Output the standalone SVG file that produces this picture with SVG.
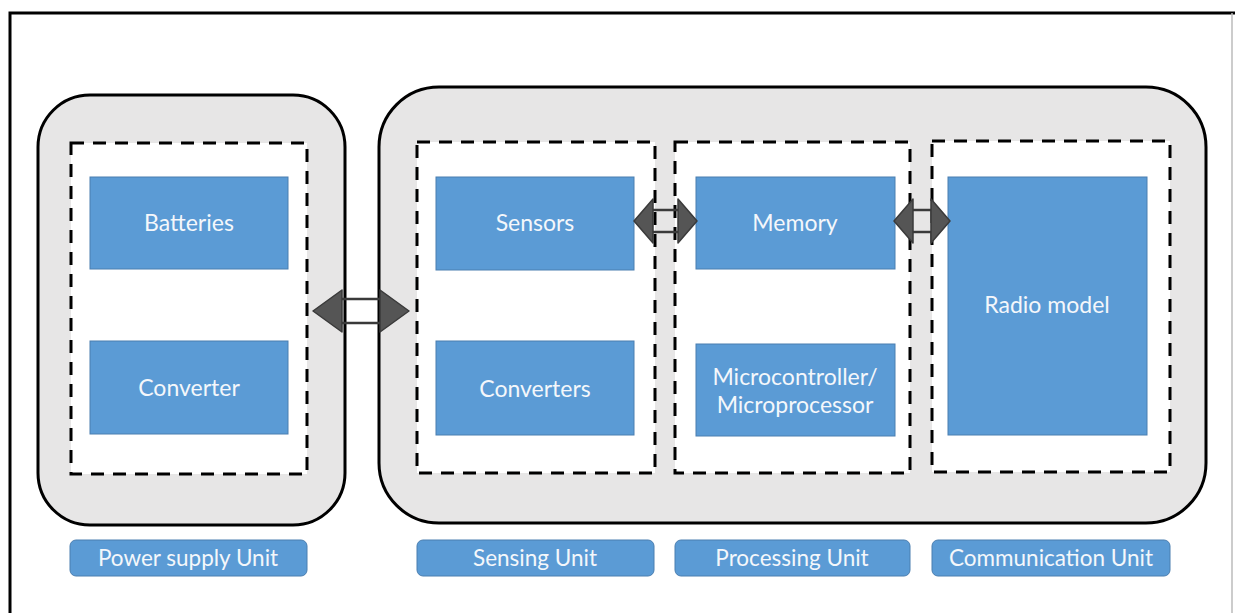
<svg xmlns="http://www.w3.org/2000/svg" width="1235" height="613" viewBox="0 0 1235 613">
<style>
.unit{fill:#E7E6E6;stroke:#000;stroke-width:3}
.dash{fill:#fff;stroke:#000;stroke-width:3;stroke-dasharray:13 9}
.box{fill:#5B9BD5;stroke:#4A7EB0;stroke-width:1}
.lbl{fill:#5B9BD5;stroke:#4A7EB0;stroke-width:1}
.t{font-family:Lato,"Open Sans","Liberation Sans",sans-serif;font-size:23px;fill:#F4F7FB;text-anchor:middle}
.lt{font-family:Lato,"Open Sans","Liberation Sans",sans-serif;font-size:22.5px;fill:#F4F7FB;text-anchor:middle}
.head{fill:#555555;stroke:#3A3A3A;stroke-width:1.5;stroke-linejoin:round}
.shaft{stroke:#3A3A3A;stroke-width:2.5}
</style>
<rect x="0" y="0" width="1235" height="613" fill="#fff"/>
<path d="M10 615 V13 H1235" fill="none" stroke="#000" stroke-width="3"/>
<line x1="1232" y1="13" x2="1232" y2="613" stroke="#BBBBBB" stroke-width="1.5"/>

<g id="power-unit">
<rect class="unit" x="38" y="95" width="307" height="430" rx="52"/>
<rect class="dash" x="71" y="143" width="236" height="331"/>
</g>
<g id="main-unit">
<rect class="unit" x="379" y="87" width="827" height="436" rx="60"/>
</g>
<g id="sensing-unit">
<rect class="dash" x="417" y="142" width="238" height="331"/>
</g>
<g id="processing-unit">
<rect class="dash" x="675" y="142" width="235" height="331"/>
</g>
<g id="communication-unit">
<rect class="dash" x="932" y="141" width="238" height="331"/>
</g>

<g id="batteries"><rect class="box" x="90" y="177" width="198" height="92"/><text class="t" x="189" y="231">Batteries</text></g>
<g id="converter"><rect class="box" x="90" y="341" width="198" height="93"/><text class="t" x="189" y="396">Converter</text></g>
<g id="sensors"><rect class="box" x="436" y="177" width="198" height="93"/><text class="t" x="535" y="231">Sensors</text></g>
<g id="converters"><rect class="box" x="436" y="341" width="198" height="94"/><text class="t" x="535" y="397">Converters</text></g>
<g id="memory"><rect class="box" x="696" y="177" width="199" height="92"/><text class="t" x="795" y="231">Memory</text></g>
<g id="microcontroller"><rect class="box" x="696" y="344" width="199" height="92"/><text class="t" x="795" y="385">Microcontroller/</text><text class="t" x="795" y="413">Microprocessor</text></g>
<g id="radio"><rect class="box" x="948" y="177" width="199" height="258"/><text class="t" x="1047" y="313">Radio model</text></g>

<g id="label-power"><rect class="lbl" x="70" y="540" width="237" height="36" rx="6"/><text class="lt" x="188" y="566">Power supply Unit</text></g>
<g id="label-sensing"><rect class="lbl" x="417" y="540" width="237" height="36" rx="6"/><text class="lt" x="535" y="566">Sensing Unit</text></g>
<g id="label-processing"><rect class="lbl" x="675" y="540" width="235" height="36" rx="6"/><text class="lt" x="792" y="566">Processing Unit</text></g>
<g id="label-communication"><rect class="lbl" x="932" y="540" width="238" height="36" rx="6"/><text class="lt" x="1051" y="566">Communication Unit</text></g>

<g id="connectors">
<g id="arrow-power-sensing">
<line class="shaft" x1="342" y1="299" x2="380" y2="299"/>
<line class="shaft" x1="342" y1="323" x2="380" y2="323"/>
<polygon class="head" points="313,311 342,290 342,332"/>
<polygon class="head" points="409,311 380,290 380,332"/>
</g>
<g id="arrow-sensors-memory">
<line class="shaft" x1="653" y1="210" x2="678" y2="210"/>
<line class="shaft" x1="653" y1="232" x2="678" y2="232"/>
<polygon class="head" points="634,221 653,199 653,243"/>
<polygon class="head" points="697,221 678,199 678,243"/>
</g>
<g id="arrow-memory-radio">
<line class="shaft" x1="913" y1="210" x2="931" y2="210"/>
<line class="shaft" x1="913" y1="232" x2="931" y2="232"/>
<polygon class="head" points="894,221 913,199 913,243"/>
<polygon class="head" points="950,221 931,199 931,243"/>
</g>
</g>
</svg>
